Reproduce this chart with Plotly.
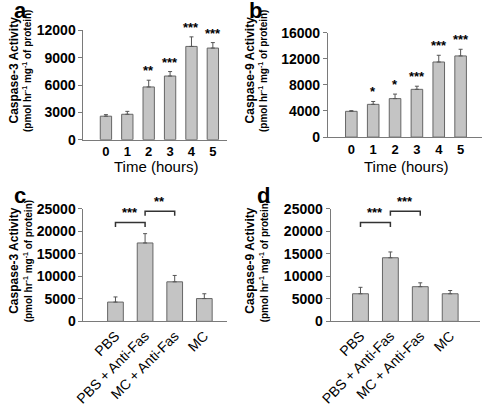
import plotly.graph_objects as go

# ---------------- data ----------------
time_hours = [0, 1, 2, 3, 4, 5]
casp3_time = [2580, 2790, 5790, 6990, 10240, 10060]
casp3_time_err = [170, 320, 740, 490, 1050, 600]
casp3_time_sig = ["", "", "**", "***", "***", "***"]

casp9_time = [3950, 5020, 5900, 7320, 11510, 12440]
casp9_time_err = [100, 440, 690, 480, 1030, 1020]
casp9_time_sig = ["", "*", "*", "***", "***", "***"]

treatments = ["PBS", "PBS + Anti-Fas", "MC + Anti-Fas", "MC"]
casp3_treat = [4290, 17430, 8790, 5070]
casp3_treat_err = [1140, 2070, 1420, 1070]
casp9_treat = [6140, 14140, 7710, 6140]
casp9_treat_err = [1430, 1290, 860, 720]

casp3_pairs = [(0, 1, "***"), (1, 2, "**")]
casp9_pairs = [(0, 1, "***"), (1, 2, "***")]

# ---------------- style ----------------
W, H = 483, 413
FONT = "Arial, Liberation Sans, sans-serif"
BAR_FILL = "#c4c4c4"
BAR_LINE = "#666666"
AXIS_COL = "#7a7a7a"
ERR_COL = "#555555"
BAR_W = 0.53
BRACKET_LEVELS = [22000, 24500]
BRACKET_DROP = 1050


def px(x):
    return x / W


def py(y):
    return 1 - y / H


fig = go.Figure()

panels = [
    dict(ax="", x=time_hours, y=casp3_time, e=casp3_time_err),
    dict(ax="2", x=time_hours, y=casp9_time, e=casp9_time_err),
    dict(ax="3", x=list(range(len(treatments))), y=casp3_treat, e=casp3_treat_err),
    dict(ax="4", x=list(range(len(treatments))), y=casp9_treat, e=casp9_treat_err),
]

for p in panels:
    fig.add_trace(go.Bar(
        x=p["x"], y=p["y"], width=BAR_W,
        marker=dict(color=BAR_FILL, line=dict(color=BAR_LINE, width=1)),
        error_y=dict(type="data", symmetric=False, array=p["e"],
                     arrayminus=[0] * len(p["e"]), color=ERR_COL,
                     thickness=1, width=2),
        xaxis="x" + p["ax"], yaxis="y" + p["ax"], showlegend=False,
        hoverinfo="skip",
    ))

tickfont_b = dict(family=FONT, size=13, color="black", weight="bold")
tickfont_y = dict(family=FONT, size=14, color="black", weight="bold")
tickfont_r = dict(family=FONT, size=14, color="black")

common_x = dict(showline=True, linecolor=AXIS_COL, linewidth=1, ticks="",
                showgrid=False, zeroline=False, fixedrange=True)
common_y = dict(showline=True, linecolor=AXIS_COL, linewidth=1, ticks="outside",
                ticklen=4, tickcolor=AXIS_COL, showgrid=False, zeroline=False,
                tickfont=tickfont_y, tickformat="d", fixedrange=True)

fig.update_layout(
    width=W, height=H,
    margin=dict(l=0, r=0, t=0, b=0),
    paper_bgcolor="white", plot_bgcolor="white",
    font=dict(family=FONT, color="black"),
    xaxis=dict(common_x, domain=[px(73.3), px(220)], anchor="y",
               range=[-1.05, 5.64], tickvals=time_hours,
               ticktext=[str(t) for t in time_hours], tickfont=tickfont_b),
    yaxis=dict(common_y, domain=[py(137), py(23.3)], anchor="x",
               range=[0, 12000], dtick=3000),
    xaxis2=dict(common_x, domain=[px(324), px(482)], anchor="y2",
                range=[-1.07, 5.98], tickvals=time_hours,
                ticktext=[str(t) for t in time_hours], tickfont=tickfont_b),
    yaxis2=dict(common_y, domain=[py(134.3), py(25.7)], anchor="x2",
                range=[0, 16000], dtick=4000),
    xaxis3=dict(common_x, domain=[px(73.3), px(220)], anchor="y3",
                range=[-1.08, 3.75], tickvals=list(range(len(treatments))),
                ticktext=treatments, tickangle=-45, tickfont=tickfont_r),
    yaxis3=dict(common_y, domain=[py(326), py(209)], anchor="x3",
                range=[0, 25000], dtick=5000),
    xaxis4=dict(common_x, domain=[px(326.7), px(480)], anchor="y4",
                range=[-1.0, 4.0], tickvals=list(range(len(treatments))),
                ticktext=treatments, tickangle=-45, tickfont=tickfont_r),
    yaxis4=dict(common_y, domain=[py(326), py(209)], anchor="x4",
                range=[0, 25000], dtick=5000),
)

ann = []
shapes = []

# significance stars above time-course bars
for axs, xs, ys, es, sig in [("", time_hours, casp3_time, casp3_time_err, casp3_time_sig),
                              ("2", time_hours, casp9_time, casp9_time_err, casp9_time_sig)]:
    for xv, yv, ev, s in zip(xs, ys, es, sig):
        if s:
            ann.append(dict(x=xv, y=yv + ev, xref="x" + axs, yref="y" + axs,
                            text=s, showarrow=False, yanchor="bottom",
                            yshift=0, font=dict(family=FONT, size=13, weight="bold")))

# comparison brackets
for axs, pairs in [("3", casp3_pairs), ("4", casp9_pairs)]:
    for (i0, i1, s), lvl in zip(pairs, BRACKET_LEVELS):
        shapes.append(dict(type="path", xref="x" + axs, yref="y" + axs,
                           path=f"M {i0},{lvl - BRACKET_DROP} L {i0},{lvl} L {i1},{lvl} L {i1},{lvl - BRACKET_DROP}",
                           line=dict(color="#333333", width=1.5)))
        ann.append(dict(x=(i0 + i1) / 2, y=lvl, xref="x" + axs, yref="y" + axs,
                        text=s, showarrow=False, yanchor="bottom", yshift=0,
                        font=dict(family=FONT, size=13, weight="bold")))

# y-axis titles (two lines each)
titles = [
    ("Caspase-3 Activity", 2, 16, 66),
    ("Caspase-9 Activity", 244, 258, 66),
    ("Caspase-3 Activity", 2, 16, 264),
    ("Caspase-9 Activity", 244, 258, 264),
]
for t1, x1, x2, yc in titles:
    ann.append(dict(x=px(x1), y=py(yc - 2), xref="paper", yref="paper", text=t1,
                    textangle=-90, showarrow=False, xanchor="center", yanchor="middle",
                    font=dict(family=FONT, size=12, weight="bold")))
    ann.append(dict(x=px(x2), y=py(yc), xref="paper", yref="paper",
                    text="(pmol hr<sup>-1</sup> mg<sup>-1</sup> of protein)",
                    textangle=-90, showarrow=False, xanchor="center", yanchor="middle",
                    font=dict(family=FONT, size=10, weight="bold")))

# x-axis titles
for xc in (148, 404):
    ann.append(dict(x=px(xc), y=py(165), xref="paper", yref="paper",
                    text="Time (hours)", showarrow=False, xanchor="center",
                    yanchor="middle", font=dict(family=FONT, size=15)))

# panel letters
for letter, xl, yc in [("a", 0, 3), ("b", 241, 3), ("c", 0, 195), ("d", 249, 195)]:
    ann.append(dict(x=px(xl), y=py(yc), xref="paper", yref="paper", text=letter,
                    showarrow=False, xanchor="left", yanchor="middle",
                    font=dict(family=FONT, size=22, weight="bold")))

fig.update_layout(annotations=ann, shapes=shapes)
fig.write_html("out.html", config={"displayModeBar": False},
               post_script="document.body.style.margin='0px';")
